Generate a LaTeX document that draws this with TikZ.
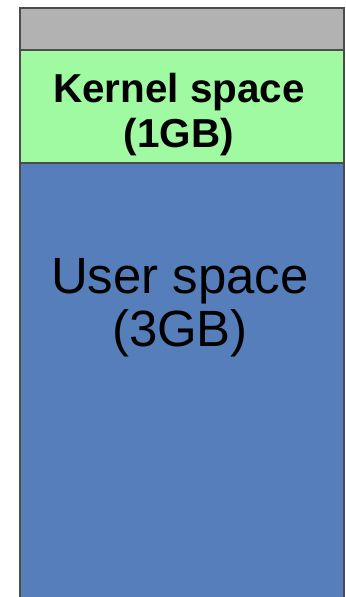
\documentclass[tikz,border=0pt]{standalone}
\usepackage{fontspec}
\setmainfont{Liberation Sans}
\usetikzlibrary{positioning,backgrounds}
\definecolor{bandgray}{RGB}{178,178,178}
\definecolor{kernelgreen}{RGB}{160,250,162}
\definecolor{userblue}{RGB}{85,126,186}

\begin{document}
\begin{tikzpicture}[band/.style={draw=black!70,line width=0.9pt},
    kerneltext/.style={align=center,anchor=base,font=\fontsize{34.5}{39}\selectfont\bfseries},
    usertext/.style={align=center,anchor=base,font=\fontsize{43.5}{45}\selectfont}]
  \useasboundingbox[fill=white] (0,0) rectangle (10.35,-17.91);
  % the three bands of the address space
  \draw[band,fill=bandgray] (0.6,-0.24) rectangle (10.32,-1.5);
  \draw[band,fill=kernelgreen] (0.6,-1.5) rectangle (10.32,-4.89);
  \draw[band,fill=userblue] (0.6,-4.89) rectangle (10.32,-18.3);
  % labels
  \node[kerneltext] (kernel) at (5.37,-4.44) {Kernel space\\(1GB)};
  \node[usertext] (user) at (5.4,-10.38) {User space\\(3GB)};
\end{tikzpicture}
\end{document}
